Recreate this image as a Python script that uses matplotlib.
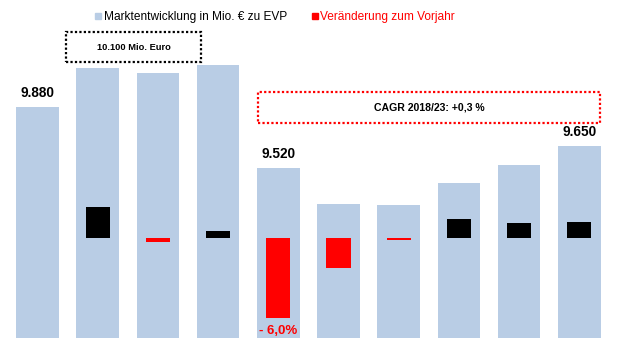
"""Market development bars with year-over-year change overlay."""

import matplotlib.pyplot as plt
from matplotlib.lines import Line2D
from matplotlib.patches import Rectangle

plt.rcParams["font.family"] = ["Liberation Sans", "DejaVu Sans"]

# market volume in Mio. EUR at retail prices, one bar per year
market = [9880, 10110, 10080, 10130, 9520, 9310, 9300, 9430, 9540, 9650]
# change to previous year in percent (first year has none)
change = [None, 2.3, -0.3, 0.5, -6.0, -2.2, -0.1, 1.4, 1.1, 1.2]
labelled_years = [0, 4, 9]
labelled_change = [4]

legend_labels = ["Marktentwicklung in Mio. € zu EVP", "Veränderung zum Vorjahr"]
box_peak_text = "10.100 Mio. Euro"
box_cagr_text = "CAGR 2018/23: +0,3 %"

BLUE = "#b9cde5"
RED = "#ff0000"


def fmt_thousands(v):
    return f"{v:,}".replace(",", ".")


def fmt_pct(v):
    sign = "- " if v < 0 else "+ "
    return sign + f"{abs(v):.1f}".replace(".", ",") + "%"


fig = plt.figure(figsize=(6.2, 3.5), dpi=100)
ax = fig.add_axes([0, 12 / 350, 1, 338 / 350])
ax2 = ax.twinx()

x = list(range(len(market)))
ax.bar(x, market, width=0.71, color=BLUE, zorder=1)
ax.set_xlim(-0.623, 9.676)
ax.set_ylim(8517, 10512)

# change bars sit on their own scale, centred on the blue bars
for i, c in enumerate(change):
    if c is None:
        continue
    colour = "black" if c > 0 else RED
    h = c if abs(c) >= 0.15 else -0.15
    ax2.bar(i, h, width=0.40, color=colour, zorder=3)
ax2.set_ylim(-7.46, 17.76)

for a in (ax, ax2):
    a.axis("off")

for i in labelled_years:
    ax.annotate(fmt_thousands(market[i]), (i, market[i]), xytext=(0, 5),
                textcoords="offset points", ha="center", va="bottom",
                fontsize=9.8, fontweight="bold")

for i in labelled_change:
    ax2.annotate(fmt_pct(change[i]), (i, change[i]), xytext=(0, -5),
                 textcoords="offset points", ha="center", va="top",
                 fontsize=9.5, fontweight="bold", color=RED,
                 annotation_clip=False)

handles = [
    Line2D([], [], marker="s", ls="", color=BLUE, markersize=5),
    Line2D([], [], marker="s", ls="", color=RED, markersize=5),
]
fig.legend(handles, legend_labels, labelcolor=["black", RED], loc="upper center",
           bbox_to_anchor=(0.443, 0.998), ncol=2, frameon=False, fontsize=8.6,
           handlelength=0.6, handletextpad=0.2, columnspacing=2.0)


def dotted_box(x0, y0, x1, y1, colour, text, size):
    W, H = 620, 350
    rect = Rectangle((x0 / W, 1 - y1 / H), (x1 - x0) / W, (y1 - y0) / H,
                     transform=fig.transFigure, fill=False, edgecolor=colour,
                     linewidth=1.6, linestyle=(0, (1, 1)), zorder=5)
    fig.add_artist(rect)
    fig.text((x0 + x1) / 2 / W, 1 - (y0 + y1) / 2 / H, text, ha="center",
             va="center", fontsize=size, fontweight="bold")


dotted_box(66, 32, 201, 62, "black", box_peak_text, 6.7)
dotted_box(258, 92, 600, 123, RED, box_cagr_text, 7.6)

fig.savefig("out.png", dpi=100)
